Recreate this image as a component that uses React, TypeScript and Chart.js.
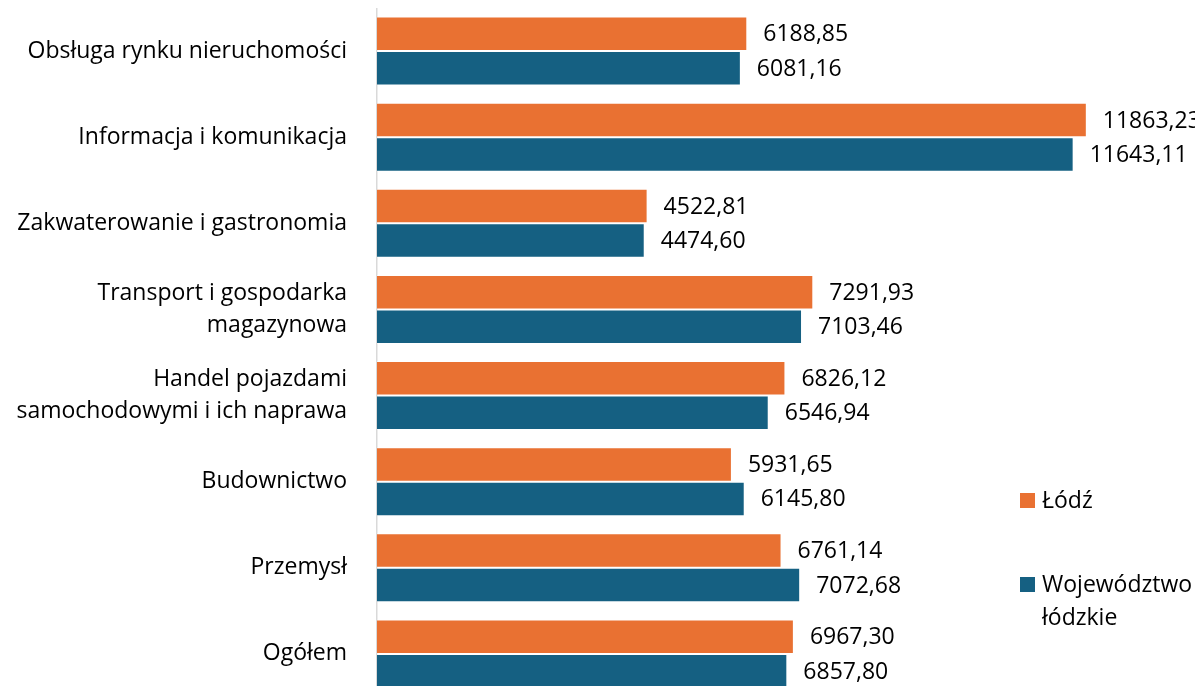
import React, { useEffect, useRef } from "react";
import { Chart, registerables } from "chart.js";

Chart.register(...registerables);

const categories: (string | string[])[] = [
  "Obsługa rynku nieruchomości",
  "Informacja i komunikacja",
  "Zakwaterowanie i gastronomia",
  ["Transport i gospodarka", "magazynowa"],
  ["Handel pojazdami", "samochodowymi i ich naprawa"],
  "Budownictwo",
  "Przemysł",
  "Ogółem",
];

const lodzValues = [6188.85, 11863.23, 4522.81, 7291.93, 6826.12, 5931.65, 6761.14, 6967.3];
const wojValues = [6081.16, 11643.11, 4474.6, 7103.46, 6546.94, 6145.8, 7072.68, 6857.8];

const seriesNames = ["Łódź", ["Województwo", "łódzkie"]];

const ORANGE = "#E97132";
const BLUE = "#156082";
const FONT = "'Open Sans', sans-serif";
const FONT_SIZE = 23;
const W = 1195;
const H = 689;

const fmt = (v: number) => v.toFixed(2).replace(".", ",");

const labelsPlugin = {
  id: "barLabels",
  afterDatasetsDraw(chart: any) {
    const ctx = chart.ctx;
    ctx.save();
    ctx.font = `${FONT_SIZE}px ${FONT}`;
    ctx.fillStyle = "#000";
    ctx.textAlign = "left";
    ctx.textBaseline = "middle";
    chart.data.datasets.forEach((ds: any, di: number) => {
      const meta = chart.getDatasetMeta(di);
      meta.data.forEach((bar: any, i: number) => {
        ctx.fillText(fmt(ds.data[i]), bar.x + 16, bar.y + 1);
      });
    });
    ctx.restore();
  },
};

const legendPlugin = {
  id: "customLegend",
  afterDraw(chart: any) {
    const ctx = chart.ctx;
    ctx.save();
    ctx.font = `${FONT_SIZE}px ${FONT}`;
    ctx.textAlign = "left";
    ctx.textBaseline = "middle";
    const items = [
      { color: ORANGE, y: 492, lines: [seriesNames[0] as string] },
      { color: BLUE, y: 576, lines: seriesNames[1] as string[] },
    ];
    items.forEach((it) => {
      ctx.fillStyle = it.color;
      ctx.fillRect(1012, it.y - 7, 15, 15);
      ctx.fillStyle = "#000";
      it.lines.forEach((ln, k) => {
        ctx.fillText(ln, 1034, it.y + 1 + k * 33);
      });
    });
    ctx.restore();
  },
};

export default function App() {
  const ref = useRef<HTMLCanvasElement | null>(null);

  useEffect(() => {
    document.body.style.overflow = "hidden";
    document.documentElement.style.overflow = "hidden";
    const chart = new Chart(ref.current as HTMLCanvasElement, {
      type: "bar",
      data: {
        labels: categories,
        datasets: [
          {
            label: "Łódź",
            data: lodzValues,
            backgroundColor: ORANGE,
            borderColor: "rgba(255,255,255,0.5)",
            borderWidth: 1,
            barPercentage: 1,
            categoryPercentage: 0.8,
          },
          {
            label: "Województwo łódzkie",
            data: wojValues,
            backgroundColor: BLUE,
            borderColor: "rgba(255,255,255,0.5)",
            borderWidth: 1,
            barPercentage: 1,
            categoryPercentage: 0.8,
          },
        ],
      },
      options: {
        indexAxis: "y",
        responsive: false,
        animation: false,
        layout: { padding: { left: 0, right: W - 369 - 718, top: 0, bottom: 0 } },
        plugins: {
          legend: { display: false },
          tooltip: { enabled: false },
        },
        scales: {
          x: {
            display: false,
            min: 0,
            max: 12000,
          },
          y: {
            grid: { display: false, drawTicks: false },
            border: { display: true, color: "#D9D9D9", width: 1.5 },
            ticks: {
              color: "#000",
              padding: 30,
              font: { family: FONT, size: FONT_SIZE, lineHeight: 1.4 },
            },
            afterFit: (scale: any) => {
              scale.width = 369;
              scale.paddingTop = 0;
              scale.paddingBottom = 0;
            },
          },
        },
      },
      plugins: [labelsPlugin, legendPlugin],
    });
    return () => chart.destroy();
  }, []);

  return (
    <div style={{ position: "relative", width: W, height: H }}>
      <canvas ref={ref} width={W} height={H} style={{ width: W, height: H, display: "block" }} />
    </div>
  );
}
